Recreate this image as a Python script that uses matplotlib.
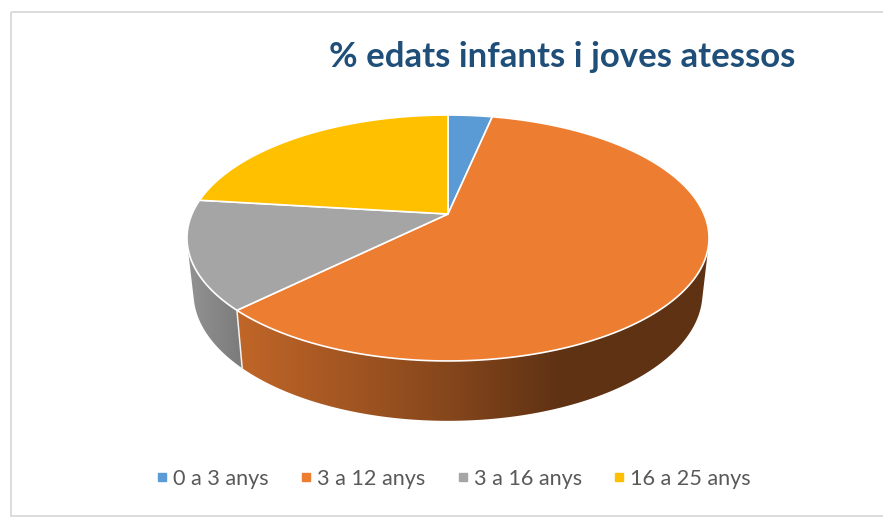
import numpy as np
import matplotlib
matplotlib.use('Agg')
import matplotlib.pyplot as plt
from matplotlib.lines import Line2D
from matplotlib.patches import Polygon, Rectangle

titol = '% edats infants i joves atessos'
categories = ['0 a 3 anys', '3 a 12 anys', '3 a 16 anys', '16 a 25 anys']
percentatges = [3.3, 59.3, 14.3, 23.1]
colors = ['#5B9BD5', '#ED7D31', '#A5A5A5', '#FFC000']

# colors of the side wall, light to dark going right
costat_x = [190, 240, 370, 450, 560, 710]
costat_factor = [[0.88, 0.86, 0.83, 0.80, 0.75, 0.75],
                 [0.81, 0.81, 0.66, 0.56, 0.40, 0.40],
                 [0.88, 0.75, 0.60, 0.50, 0.40, 0.40],
                 [0.80, 0.80, 0.60, 0.50, 0.40, 0.40]]

AX, AY = 448, 214   # where the slices meet
A, B, P = 256, 118.3, 0.195
SX, SY, DY = 0.975, 1.04, 54


def projecta(angle):
	# angle clockwise from the top of the disc, in degrees
	u = np.sin(np.radians(angle))
	v = np.cos(np.radians(angle))
	w = 1 + P*v
	return A*u/w, -B*v/w


def dalt(angle):
	x, y = projecta(angle)
	return AX + x, AY + y


def baix(angle):
	x, y = projecta(angle)
	return AX + SX*x, AY + SY*y + DY


def envolupant(punts):
	# convex hull of the points
	punts = sorted(set(punts))

	def meitat(llista):
		sortida = []
		for p in llista:
			while len(sortida) > 1:
				a, b = sortida[-2], sortida[-1]
				if (b[0]-a[0])*(p[1]-a[1]) - (b[1]-a[1])*(p[0]-a[0]) > 0:
					break
				sortida.pop()
			sortida.append(p)
		return sortida[:-1]

	return meitat(punts) + meitat(punts[::-1])


fig = plt.figure(figsize=(8.83, 5.29), dpi=100)
ax = fig.add_axes([0, 0, 1, 1])
ax.axis('off')

ax.add_patch(Rectangle((10.5, 12), 890, 504, fill=False, ec='#D9D9D9', lw=1.3))

limits = np.concatenate([[0], np.cumsum(percentatges)])
limits = limits/limits[-1]*360

# side wall first, the top covers what is behind
columnes = np.arange(180, 721)
for i in range(1, 3):
	angles = np.linspace(limits[i], limits[i+1], 200)
	xd, yd = dalt(angles)
	xb, yb = baix(angles)
	punts = list(zip(xd, yd)) + list(zip(xb, yb))
	forma = Polygon(envolupant(punts), closed=True, transform=ax.transData, fc='none', ec='none')
	ax.add_patch(forma)
	f = np.interp(columnes, costat_x, costat_factor[i])
	imatge = (np.array(matplotlib.colors.to_rgb(colors[i]))*f[:, None])[None, :, :]
	im = ax.imshow(imatge, extent=(180, 720, 430, 100), aspect='auto', interpolation='bilinear', zorder=2)
	im.set_clip_path(forma)

ax.set_xlim(0, 883)
ax.set_ylim(529, 0)

# white line on the side between grey and orange
ax.plot([dalt(limits[2])[0], baix(limits[2])[0]], [dalt(limits[2])[1], baix(limits[2])[1]],
	color='#F2F2F2', lw=1.1, zorder=3)

# top of the disc
for i in range(len(categories)):
	angles = np.linspace(limits[i], limits[i+1], 200)
	xs, ys = dalt(angles)
	punts = [(AX, AY)] + list(zip(xs, ys))
	ax.add_patch(Polygon(punts, closed=True, fc=colors[i], ec='white', lw=1.2, zorder=4, joinstyle='round'))

ax.text(329, 57, titol, fontsize=25, fontweight='bold', family='Lato', color='#1F4E79', ha='left', va='center')

handles = [Line2D([], [], ls='none', marker='s', ms=5.8, color=c) for c in colors]
ax.legend(handles, categories, ncol=4, loc='center', bbox_to_anchor=(451/883, 1 - 479/529), frameon=False,
	prop={'family': 'Lato', 'size': 15.6}, labelcolor='#595959', handletextpad=0.0, columnspacing=1.23, handlelength=1.0)

fig.savefig('out.png', dpi=100)
